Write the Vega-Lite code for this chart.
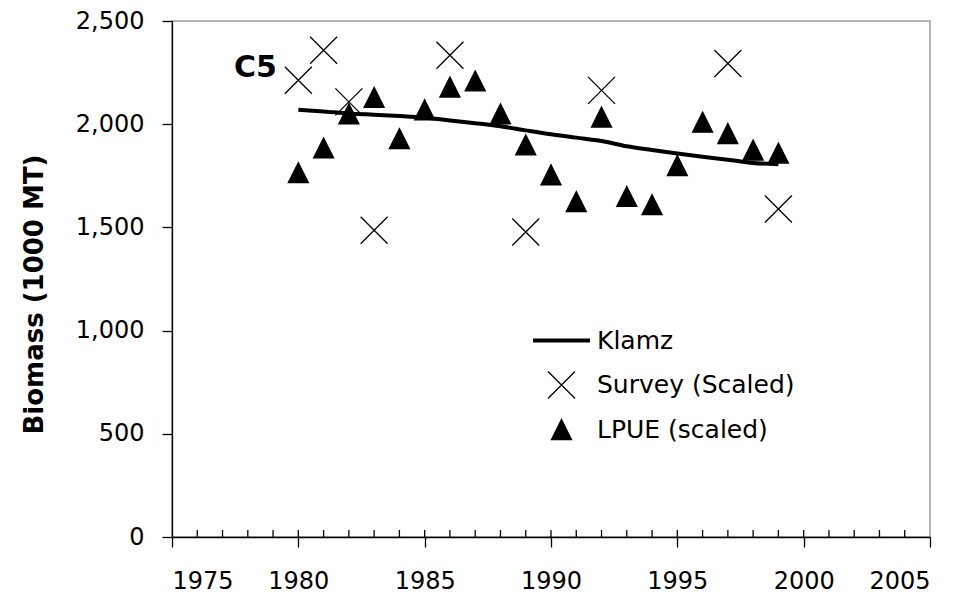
{
  "$schema": "https://vega.github.io/schema/vega-lite/v6.json",
  "width": 758,
  "height": 516,
  "autosize": {"type": "none"},
  "padding": {"left": 172, "top": 21, "right": 39, "bottom": 60},
  "background": "white",
  "config": {
    "view": {"stroke": "#9a9a9a", "strokeWidth": 1.5},
    "font": "DejaVu Sans",
    "axis": {"grid": false, "domainColor": "black", "tickColor": "black", "labelColor": "black", "labelFont": "DejaVu Sans", "labelFontSize": 24, "domainWidth": 1.3, "tickWidth": 1.3}
  },
  "layer": [
    {
      "data": {"values": [
        {"year": 1976}, {"year": 1977}, {"year": 1978}, {"year": 1979}, {"year": 1980},
        {"year": 1981}, {"year": 1982}, {"year": 1983}, {"year": 1984}, {"year": 1985},
        {"year": 1986}, {"year": 1987}, {"year": 1988}, {"year": 1989}, {"year": 1990},
        {"year": 1991}, {"year": 1992}, {"year": 1993}, {"year": 1994}, {"year": 1995},
        {"year": 1996}, {"year": 1997}, {"year": 1998}, {"year": 1999}, {"year": 2000},
        {"year": 2001}, {"year": 2002}, {"year": 2003}, {"year": 2004}
      ]},
      "mark": {"type": "rule", "color": "black", "strokeWidth": 1.3, "y2Offset": -7},
      "encoding": {
        "x": {"field": "year", "type": "quantitative"},
        "y": {"datum": 0, "type": "quantitative"},
        "y2": {"datum": 0}
      }
    },
    {
      "data": {"values": [
        {"year": 1980, "value": 2070, "series": "Klamz"},
        {"year": 1981, "value": 2062, "series": "Klamz"},
        {"year": 1982, "value": 2052, "series": "Klamz"},
        {"year": 1983, "value": 2046, "series": "Klamz"},
        {"year": 1984, "value": 2040, "series": "Klamz"},
        {"year": 1985, "value": 2032, "series": "Klamz"},
        {"year": 1986, "value": 2018, "series": "Klamz"},
        {"year": 1987, "value": 2005, "series": "Klamz"},
        {"year": 1988, "value": 1990, "series": "Klamz"},
        {"year": 1989, "value": 1970, "series": "Klamz"},
        {"year": 1990, "value": 1951, "series": "Klamz"},
        {"year": 1991, "value": 1935, "series": "Klamz"},
        {"year": 1992, "value": 1919, "series": "Klamz"},
        {"year": 1993, "value": 1893, "series": "Klamz"},
        {"year": 1994, "value": 1875, "series": "Klamz"},
        {"year": 1995, "value": 1858, "series": "Klamz"},
        {"year": 1996, "value": 1842, "series": "Klamz"},
        {"year": 1997, "value": 1828, "series": "Klamz"},
        {"year": 1998, "value": 1812, "series": "Klamz"},
        {"year": 1999, "value": 1806, "series": "Klamz"}
      ]},
      "mark": {"type": "line", "color": "black", "strokeWidth": 4, "interpolate": "monotone"},
      "encoding": {
        "x": {"field": "year", "type": "quantitative", "scale": {"domain": [1975, 2005], "nice": false, "zero": false},
          "axis": {"orient": "bottom", "title": null, "values": [1975, 1980, 1985, 1990, 1995, 2000, 2005], "format": "d", "tickSize": 10, "labelPadding": 22}},
        "y": {"field": "value", "type": "quantitative", "scale": {"domain": [0, 2500], "nice": false},
          "axis": {"title": "Biomass (1000 MT)", "titleFont": "DejaVu Sans", "titleFontSize": 26, "titleFontWeight": "bold", "titleColor": "black", "titlePadding": 28, "titleY": 273, "values": [0, 500, 1000, 1500, 2000, 2500], "format": ",.0f", "tickSize": 10, "labelPadding": 18}}
      }
    },
    {
      "data": {"values": [
        {"year": 1980, "value": 2213, "series": "Survey (Scaled)"},
        {"year": 1981, "value": 2358, "series": "Survey (Scaled)"},
        {"year": 1982, "value": 2108, "series": "Survey (Scaled)"},
        {"year": 1983, "value": 1486, "series": "Survey (Scaled)"},
        {"year": 1986, "value": 2334, "series": "Survey (Scaled)"},
        {"year": 1989, "value": 1478, "series": "Survey (Scaled)"},
        {"year": 1992, "value": 2164, "series": "Survey (Scaled)"},
        {"year": 1997, "value": 2294, "series": "Survey (Scaled)"},
        {"year": 1999, "value": 1589, "series": "Survey (Scaled)"},
        {"year": 1980, "value": 1765, "series": "LPUE (scaled)"},
        {"year": 1981, "value": 1885, "series": "LPUE (scaled)"},
        {"year": 1982, "value": 2050, "series": "LPUE (scaled)"},
        {"year": 1983, "value": 2130, "series": "LPUE (scaled)"},
        {"year": 1984, "value": 1930, "series": "LPUE (scaled)"},
        {"year": 1985, "value": 2070, "series": "LPUE (scaled)"},
        {"year": 1986, "value": 2180, "series": "LPUE (scaled)"},
        {"year": 1987, "value": 2210, "series": "LPUE (scaled)"},
        {"year": 1988, "value": 2050, "series": "LPUE (scaled)"},
        {"year": 1989, "value": 1900, "series": "LPUE (scaled)"},
        {"year": 1990, "value": 1755, "series": "LPUE (scaled)"},
        {"year": 1991, "value": 1625, "series": "LPUE (scaled)"},
        {"year": 1992, "value": 2035, "series": "LPUE (scaled)"},
        {"year": 1993, "value": 1650, "series": "LPUE (scaled)"},
        {"year": 1994, "value": 1610, "series": "LPUE (scaled)"},
        {"year": 1995, "value": 1800, "series": "LPUE (scaled)"},
        {"year": 1996, "value": 2010, "series": "LPUE (scaled)"},
        {"year": 1997, "value": 1955, "series": "LPUE (scaled)"},
        {"year": 1998, "value": 1875, "series": "LPUE (scaled)"},
        {"year": 1999, "value": 1860, "series": "LPUE (scaled)"}
      ]},
      "mark": {"type": "point", "opacity": 1, "size": 400},
      "encoding": {
        "x": {"field": "year", "type": "quantitative"},
        "y": {"field": "value", "type": "quantitative"},
        "shape": {"field": "series", "type": "nominal",
          "scale": {"domain": ["Klamz", "Survey (Scaled)", "LPUE (scaled)"], "range": ["M-2.85,0H2.85", "M-1.35,-1.35L1.35,1.35M1.35,-1.35L-1.35,1.35", "M0,-1L1,1L-1,1Z"]},
          "legend": {"title": null, "orient": "none", "legendX": 377, "legendY": 307, "padding": 0, "symbolSize": 400, "labelFont": "DejaVu Sans", "labelFontSize": 25, "labelColor": "black", "labelOffset": 23, "labelLimit": 400, "rowPadding": 14.5}
        },
        "fill": {"field": "series", "type": "nominal",
          "scale": {"domain": ["Klamz", "Survey (Scaled)", "LPUE (scaled)"], "range": ["transparent", "transparent", "black"]}},
        "stroke": {"field": "series", "type": "nominal",
          "scale": {"domain": ["Klamz", "Survey (Scaled)", "LPUE (scaled)"], "range": ["black", "black", "black"]}},
        "strokeWidth": {"field": "series", "type": "nominal",
          "scale": {"type": "ordinal", "domain": ["Klamz", "Survey (Scaled)", "LPUE (scaled)"], "range": [4, 1.3, 1.3]}}
      }
    },
    {
      "data": {"values": [{"year": 1978.3, "value": 2272, "label": "C5"}]},
      "mark": {"type": "text", "font": "DejaVu Sans", "fontSize": 30, "fontWeight": "bold", "color": "black", "align": "center", "baseline": "middle"},
      "encoding": {
        "x": {"field": "year", "type": "quantitative"},
        "y": {"field": "value", "type": "quantitative"},
        "text": {"field": "label"}
      }
    }
  ]
}
